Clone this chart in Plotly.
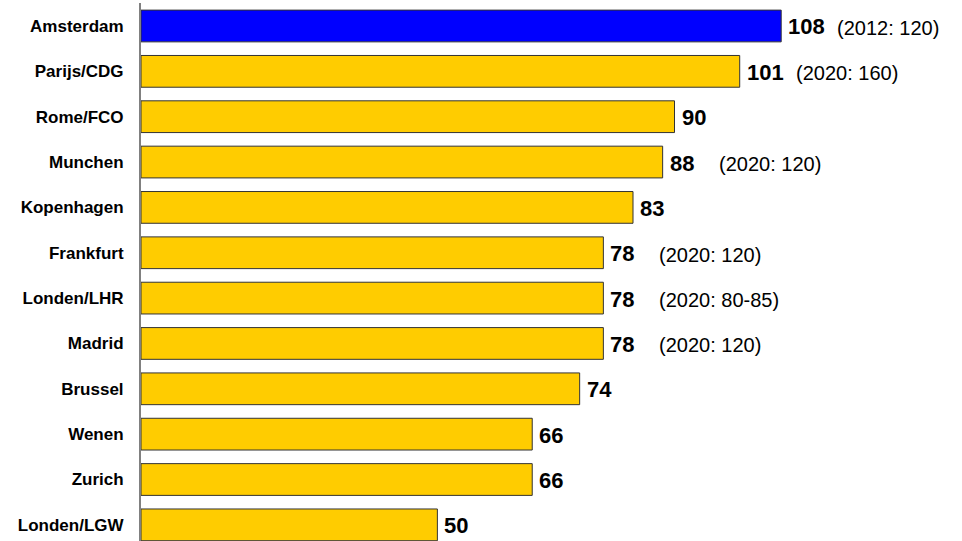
import plotly.graph_objects as go

# Airports and their values, top to bottom
airports = ["Amsterdam", "Parijs/CDG", "Rome/FCO", "Munchen", "Kopenhagen",
            "Frankfurt", "Londen/LHR", "Madrid", "Brussel", "Wenen",
            "Zurich", "Londen/LGW"]
values = [108, 101, 90, 88, 83, 78, 78, 78, 74, 66, 66, 50]
notes = ["(2012: 120)", "(2020: 160)", "", "(2020: 120)", "",
         "(2020: 120)", "(2020: 80-85)", "(2020: 120)", "", "", "", ""]

BLUE = "#0000FF"
YELLOW = "#FFCC00"
colors = [BLUE if a == "Amsterdam" else YELLOW for a in airports]

FONT = "Liberation Sans, Arial, sans-serif"

fig = go.Figure(go.Bar(
    x=values,
    y=airports,
    orientation="h",
    width=0.7,
    marker=dict(color=colors, line=dict(color="#333333", width=1)),
    hoverinfo="skip",
))

annotations = []
for a, v, n in zip(airports, values, notes):
    annotations.append(dict(
        x=v, y=a, xref="x", yref="y", text=f"<b>{v}</b>",
        showarrow=False, xanchor="left", yanchor="middle", xshift=5, yshift=-1,
        font=dict(family=FONT, size=22, color="#000000"),
    ))
    if n:
        annotations.append(dict(
            x=v, y=a, xref="x", yref="y", text=n,
            showarrow=False, xanchor="left", yanchor="middle", xshift=54, yshift=-2,
            font=dict(family=FONT, size=20, color="#000000"),
        ))

fig.update_layout(
    width=962, height=541,
    margin=dict(l=141, r=0, t=3, b=0),
    paper_bgcolor="white", plot_bgcolor="white",
    showlegend=False,
    annotations=annotations,
    xaxis=dict(range=[0, 138.5], visible=False, fixedrange=True),
    yaxis=dict(
        type="category",
        categoryorder="array", categoryarray=airports,
        range=[11.356, -0.507],
        showline=True, linecolor="#808080", linewidth=2,
        showgrid=False, zeroline=False,
        ticks="", ticklabelstandoff=12,
        tickfont=dict(family=FONT, size=17, color="#000000", weight="bold"),
        fixedrange=True,
    ),
)

fig.write_html("out.html")
